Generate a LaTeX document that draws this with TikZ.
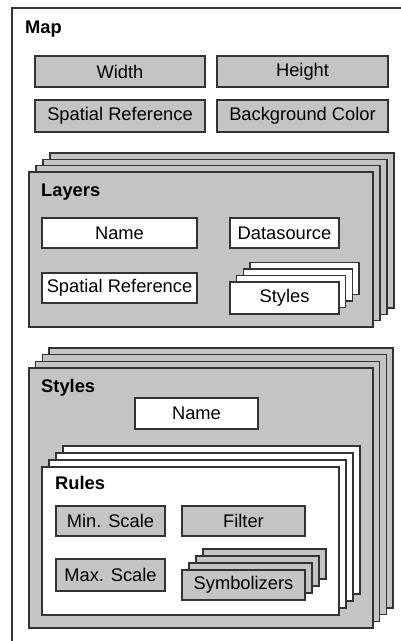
\documentclass[tikz,border=0pt]{standalone}
\usepackage{fontspec}
\setmainfont{Liberation Sans}
\definecolor{boxgray}{HTML}{C4C4C4}
\definecolor{edge}{HTML}{333333}
\tikzset{
  gbox/.style={draw=edge, line width=1.4pt, fill=boxgray, inner sep=0pt, font=\fontsize{18.3}{21}\selectfont},
  wbox/.style={draw=edge, line width=1.4pt, fill=white, inner sep=0pt, font=\fontsize{18.3}{21}\selectfont},
  title/.style={inner sep=0pt, anchor=west, font=\fontsize{18.3}{21}\selectfont\bfseries},
  mapframe/.style={draw=edge, line width=1.1pt}
}
\begin{document}
\begin{tikzpicture}[x=1pt,y=-1pt]
\useasboundingbox (0,0) rectangle (401,641);
\begin{scope}
\clip (0,0) rectangle (401,641);
\node[mapframe, minimum width=393pt, minimum height=640pt, inner sep=0pt] (map) at (208.5,328) {};
\end{scope}
\node[title] (maplabel) at (25,29) {Map};

% Map properties
\node[gbox, minimum width=170pt, minimum height=31pt] (width) at (120,71.5) {Width};
\node[gbox, minimum width=171pt, minimum height=31pt] (height) at (302.5,71.5) {Height};
\node[gbox, minimum width=170pt, minimum height=32pt] (mapsr) at (120,116) {Spatial Reference};
\node[gbox, minimum width=171pt, minimum height=32pt] (bgcolor) at (302.5,116) {Background Color};

% Layers stack
\foreach \k in {3,2,1}{
  \node[gbox, minimum width=344pt, minimum height=155pt] (layers\k) at ({201+7*\k},{249.5-6.3*\k}) {};
}
\node[gbox, minimum width=344pt, minimum height=155pt] (layers) at (201,249.5) {};
\node[title] (layerslabel) at (41,192) {Layers};
\node[wbox, minimum width=155pt, minimum height=30pt] (lname) at (119.5,233) {Name};
\node[wbox, minimum width=109pt, minimum height=30pt] (datasource) at (284.5,233) {Datasource};
\node[wbox, minimum width=155pt, minimum height=30pt] (lsr) at (119.5,288) {Spatial Reference};
\foreach \k in {3,2,1}{
  \node[wbox, minimum width=109pt, minimum height=32pt] (lstyles\k) at ({284.5+6.7*\k},{298-6.5*\k}) {};
}
\node[wbox, minimum width=109pt, minimum height=32pt] (lstyles) at (284.5,298) {Styles};

% Styles stack
\foreach \k in {3,2,1}{
  \node[gbox, minimum width=344pt, minimum height=260pt] (styles\k) at ({201+6.7*\k},{498-6.7*\k}) {};
}
\node[gbox, minimum width=344pt, minimum height=260pt] (styles) at (201,498) {};
\node[title] (styleslabel) at (41,388) {Styles};
\node[wbox, minimum width=123pt, minimum height=31pt] (sname) at (196.5,413.5) {Name};

% Rules stack
\foreach \k in {3,2,1}{
  \node[wbox, minimum width=297pt, minimum height=148pt] (rules\k) at ({190.5+7*\k},{541-7*\k}) {};
}
\node[wbox, minimum width=297pt, minimum height=148pt] (rules) at (190.5,541) {};
\node[title] (ruleslabel) at (55,483) {Rules};
\node[gbox, minimum width=109pt, minimum height=30pt] (minscale) at (110.5,521) {Min. Scale};
\node[gbox, minimum width=123pt, minimum height=30pt] (filter) at (243.5,521) {Filter};
\node[gbox, minimum width=109pt, minimum height=32pt] (maxscale) at (110.5,575) {Max. Scale};
\foreach \k in {3,2,1}{
  \node[gbox, minimum width=123pt, minimum height=30pt] (symb\k) at ({243.5+7*\k},{585-7*\k}) {};
}
\node[gbox, minimum width=123pt, minimum height=30pt] (symb) at (243.5,585) {Symbolizers};
\end{tikzpicture}
\end{document}
